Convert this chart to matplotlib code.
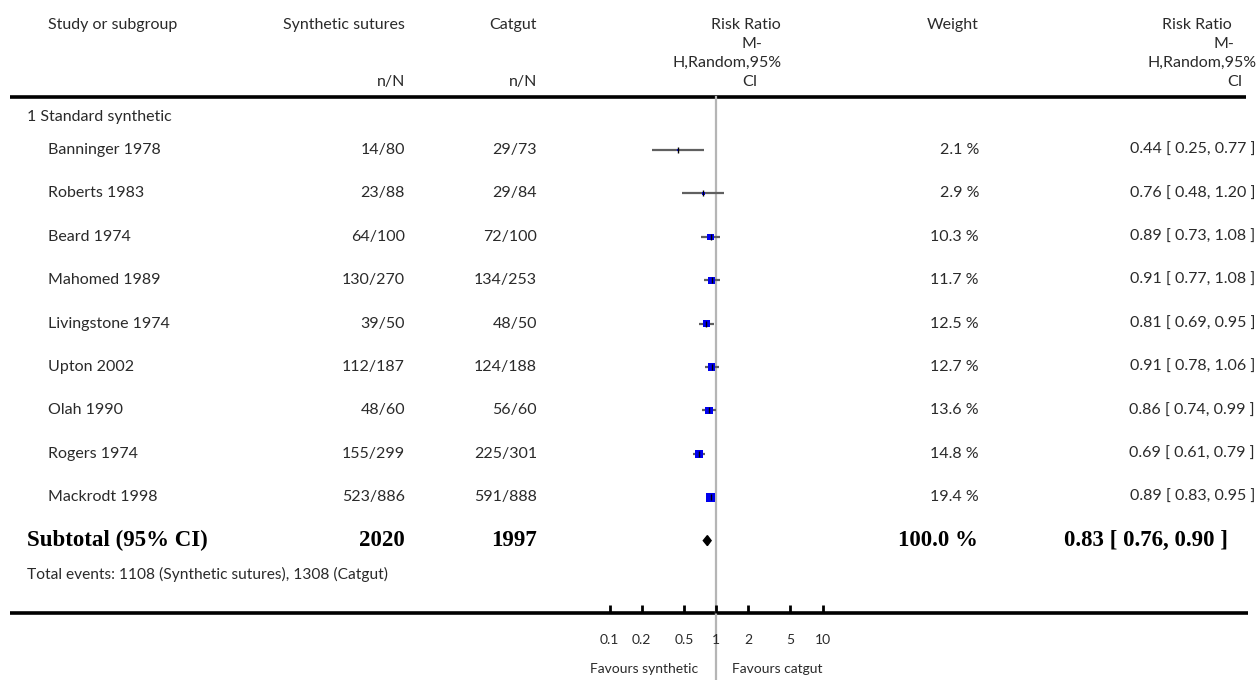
"""Forest plot: synthetic sutures vs catgut, risk ratio (M-H, random, 95% CI)."""

import matplotlib.pyplot as plt
import numpy as np

plt.rcParams["font.family"] = ["Lato", "DejaVu Sans"]

studies = [
    "Banninger 1978", "Roberts 1983", "Beard 1974", "Mahomed 1989",
    "Livingstone 1974", "Upton 2002", "Olah 1990", "Rogers 1974", "Mackrodt 1998",
]
synthetic = ["14/80", "23/88", "64/100", "130/270", "39/50", "112/187", "48/60", "155/299", "523/886"]
catgut = ["29/73", "29/84", "72/100", "134/253", "48/50", "124/188", "56/60", "225/301", "591/888"]
rr = np.array([0.44, 0.76, 0.89, 0.91, 0.81, 0.91, 0.86, 0.69, 0.89])
lo = np.array([0.25, 0.48, 0.73, 0.77, 0.69, 0.78, 0.74, 0.61, 0.83])
hi = np.array([0.77, 1.20, 1.08, 1.08, 0.95, 1.06, 0.99, 0.79, 0.95])
weight = np.array([2.1, 2.9, 10.3, 11.7, 12.5, 12.7, 13.6, 14.8, 19.4])

total_rr, total_lo, total_hi = 0.83, 0.76, 0.90
total_n = ("2020", "1997")
total_events = "Total events: 1108 (Synthetic sutures), 1308 (Catgut)"
ticks = [0.1, 0.2, 0.5, 1, 2, 5, 10]
tick_labels = ["0.1", "0.2", "0.5", "1", "2", "5", "10"]

W, H = 1258, 680
ROW0, STEP = 150, 43.4
TEXT = "#2a2a2a"
FS = 11.5

fig = plt.figure(figsize=(W / 100, H / 100), dpi=100)
ax = fig.add_axes([0, 0, 1, 1])
ax.set_xlim(0, W)
ax.set_ylim(H, 0)
ax.axis("off")

# header
ax.text(48, 25, "Study or subgroup", fontsize=FS, color=TEXT, va="center")
ax.text(405, 25, "Synthetic sutures", fontsize=FS, color=TEXT, va="center", ha="right")
ax.text(537, 25, "Catgut", fontsize=FS, color=TEXT, va="center", ha="right")
ax.text(405, 82, "n/N", fontsize=FS, color=TEXT, va="center", ha="right")
ax.text(537, 82, "n/N", fontsize=FS, color=TEXT, va="center", ha="right")
ax.text(979, 25, "Weight", fontsize=FS, color=TEXT, va="center", ha="right")
for txt, x, y in [("Risk Ratio", 746, 25), ("M-", 752, 44), ("H,Random,95%", 727, 63), ("CI", 750, 82)]:
    ax.text(x, y, txt, fontsize=FS, color=TEXT, va="center", ha="center")
for txt, x, y in [("Risk Ratio", 1232, 25), ("M-", 1234, 44), ("H,Random,95%", 1257, 63), ("CI", 1243, 82)]:
    ax.text(x, y, txt, fontsize=FS, color=TEXT, va="center", ha="right")
ax.plot([10, 1246], [97, 97], color="black", lw=2.6, solid_capstyle="butt")
ax.plot([10, 1248], [613, 613], color="black", lw=2.6, solid_capstyle="butt")

ax.text(27, 117, "1 Standard synthetic", fontsize=FS, color=TEXT, va="center")
for i, name in enumerate(studies):
    y = ROW0 + STEP * i
    ax.text(48, y, name, fontsize=FS, color=TEXT, va="center")
    ax.text(405, y, synthetic[i], fontsize=FS, color=TEXT, va="center", ha="right")
    ax.text(537, y, catgut[i], fontsize=FS, color=TEXT, va="center", ha="right")
    ax.text(979, y, f"{weight[i]:.1f} %", fontsize=FS, color=TEXT, va="center", ha="right")
    ax.text(1255, y, f"{rr[i]:.2f} [ {lo[i]:.2f}, {hi[i]:.2f} ]", fontsize=FS,
            color=TEXT, va="center", ha="right")

ysub = ROW0 + STEP * len(studies)
bold = dict(fontsize=16.5, fontweight="bold", family="Liberation Serif", color="black", va="center")
ax.text(27, ysub, "Subtotal (95% CI)", **bold)
ax.text(405, ysub, total_n[0], ha="right", **bold)
ax.text(537, ysub, total_n[1], ha="right", **bold)
ax.text(978, ysub, "100.0 %", ha="right", **bold)
ax.text(1228, ysub, f"{total_rr:.2f} [ {total_lo:.2f}, {total_hi:.2f} ]", ha="right", **bold)
ax.text(27, ysub + 34, total_events, fontsize=11.2, color=TEXT, va="center")

# forest panel, log scale
x0, x1 = 503, 929
fx = fig.add_axes([x0 / W, (H - 613) / H, (x1 - x0) / W, (613 - 97) / H])
fx.set_xscale("log")
fx.set_xlim(0.01, 100)
fx.set_ylim(613, 97)
fx.patch.set_alpha(0)
for s in fx.spines.values():
    s.set_visible(False)
fx.set_yticks([])
fx.set_xticks(ticks)
fx.set_xticklabels(tick_labels)
fx.minorticks_off()
fx.tick_params(axis="x", direction="in", length=6, width=2, pad=15, labelsize=10, labelcolor=TEXT)
fx.axvline(1, ymin=-0.13, ymax=1, color="#b5b5b5", lw=1.6, clip_on=False, zorder=0)

ys = ROW0 + STEP * np.arange(len(studies))
fx.hlines(ys, lo, hi, color="#606060", lw=1.6, zorder=2)
side_pt = 2.0 * np.sqrt(weight) * 0.72
fx.scatter(rr, ys, marker="s", s=side_pt ** 2, color="#0000ee", zorder=3, linewidths=0)
fx.scatter(rr, ys, marker="|", s=14, color="black", linewidths=1, zorder=4)
fx.fill([total_lo, total_rr, total_hi, total_rr], [ysub, ysub - 5, ysub, ysub + 5],
        color="black", zorder=3)

fx.text(0.68, 669, "Favours synthetic", fontsize=10, color=TEXT, va="center", ha="right",
        clip_on=False)
fx.text(1.41, 669, "Favours catgut", fontsize=10, color=TEXT, va="center", ha="left",
        clip_on=False)

fig.savefig("out.png", dpi=100)
